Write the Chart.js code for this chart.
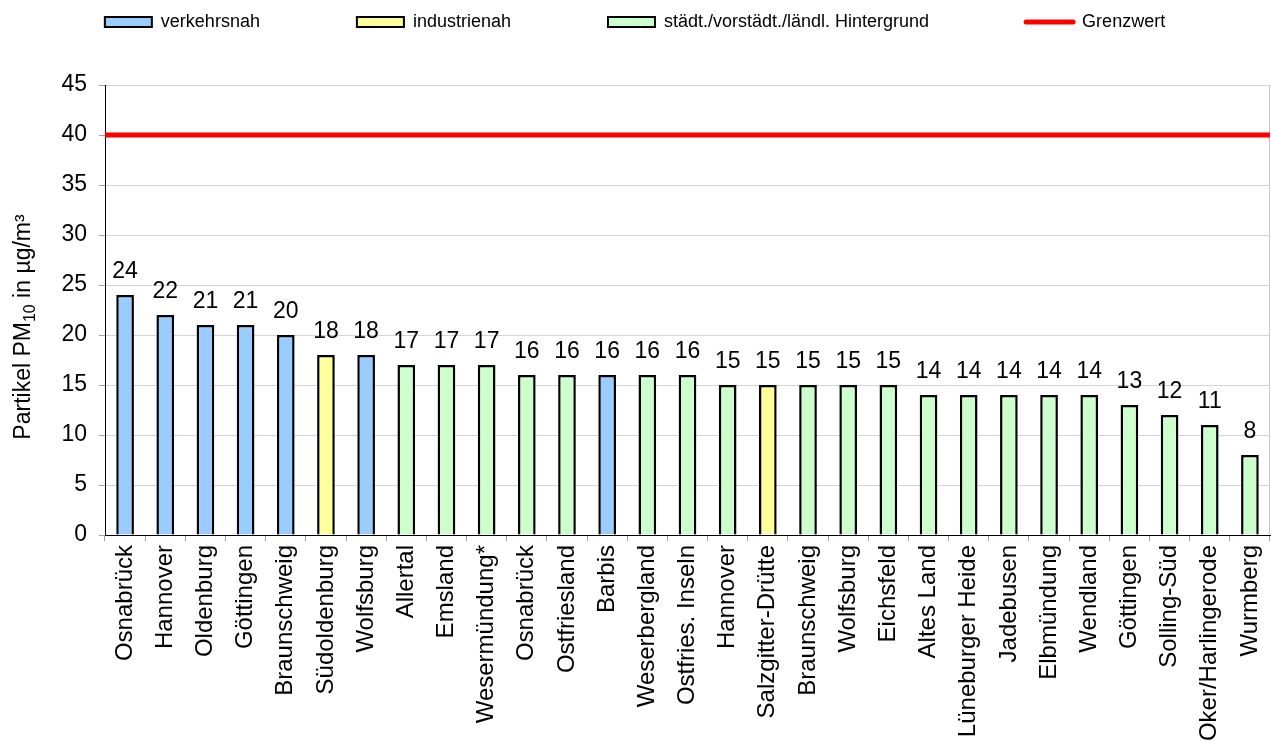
<!DOCTYPE html>
<html>
<head>
<meta charset="utf-8">
<script src="https://cdn.jsdelivr.net/npm/chart.js@4"></script>
<style>
html, body { margin: 0; padding: 0; background: #fff; overflow: hidden; }
</style>
</head>
<body>
<canvas id="myChart" width="1271" height="742"></canvas>
<script>
// stations, sorted like in the original chart
var stations = ["Osnabrück", "Hannover", "Oldenburg", "Göttingen", "Braunschweig", "Südoldenburg",
    "Wolfsburg", "Allertal", "Emsland", "Wesermündung*", "Osnabrück", "Ostfriesland", "Barbis",
    "Weserbergland", "Ostfries. Inseln", "Hannover", "Salzgitter-Drütte", "Braunschweig", "Wolfsburg",
    "Eichsfeld", "Altes Land", "Lüneburger Heide", "Jadebusen", "Elbmündung", "Wendland", "Göttingen",
    "Solling-Süd", "Oker/Harlingerode", "Wurmberg"];

// annual mean PM10 in µg/m³
var values = [24, 22, 21, 21, 20, 18, 18, 17, 17, 17, 16, 16, 16, 16, 16, 15, 15, 15, 15, 15,
    14, 14, 14, 14, 14, 13, 12, 11, 8];

// station type: v = verkehrsnah, i = industrienah, h = Hintergrund
var types = ["v", "v", "v", "v", "v", "i", "v", "h", "h", "h", "h", "h", "v", "h", "h", "h", "i", "h", "h",
    "h", "h", "h", "h", "h", "h", "h", "h", "h", "h"];

var yTicks = [0, 5, 10, 15, 20, 25, 30, 35, 40, 45];

// limit value line (left edge to right edge)
var grenzwert = [40, 40];

var FONT = '"Liberation Sans", Arial, sans-serif';

function byType(t) {
    return values.map(function (v, i) { return types[i] === t ? v : null; });
}

// value labels above the bars
var barLabels = {
    id: "barLabels",
    afterDatasetsDraw: function (chart) {
        var ctx = chart.ctx;
        ctx.save();
        ctx.font = "23px " + FONT;
        ctx.fillStyle = "#000";
        ctx.textAlign = "center";
        ctx.textBaseline = "alphabetic";
        chart.data.datasets.forEach(function (ds, i) {
            if (ds.type === "line") return;
            chart.getDatasetMeta(i).data.forEach(function (bar, j) {
                if (ds.data[j] === null) return;
                ctx.fillText(ds.data[j], bar.x, bar.y - 17);
            });
        });
        ctx.restore();
    }
};

// y axis title with subscript "10"
var yTitle = {
    id: "yTitle",
    afterDraw: function (chart) {
        var ctx = chart.ctx;
        var area = chart.chartArea;
        var parts = [
            { t: "Partikel PM", size: 23, dy: 0 },
            { t: "10", size: 16, dy: 5 },
            { t: " in µg/m³", size: 23, dy: 0 }
        ];
        ctx.save();
        var total = 0;
        parts.forEach(function (p) {
            ctx.font = p.size + "px " + FONT;
            p.w = ctx.measureText(p.t).width;
            total += p.w;
        });
        ctx.translate(30, (area.top + area.bottom) / 2 + 17);
        ctx.rotate(-Math.PI / 2);
        ctx.fillStyle = "#000";
        ctx.textBaseline = "alphabetic";
        ctx.textAlign = "left";
        var x = -total / 2;
        parts.forEach(function (p) {
            ctx.font = p.size + "px " + FONT;
            ctx.fillText(p.t, x, p.dy);
            x += p.w;
        });
        ctx.restore();
    }
};

// thin grey frame line on the right side of the plot
var rightFrame = {
    id: "rightFrame",
    beforeDatasetsDraw: function (chart) {
        var ctx = chart.ctx;
        var a = chart.chartArea;
        ctx.save();
        ctx.strokeStyle = "#c8c8c8";
        ctx.lineWidth = 1;
        ctx.beginPath();
        ctx.moveTo(a.right - 0.5, a.top);
        ctx.lineTo(a.right - 0.5, a.bottom);
        ctx.stroke();
        ctx.restore();
    }
};

var ctx = document.getElementById("myChart").getContext("2d");

var data = {
    labels: stations,
    datasets: [
        {
            label: "verkehrsnah",
            data: byType("v"),
            backgroundColor: "#99CCFF",
            borderColor: "#000",
            borderWidth: 2.5,
            grouped: false,
            barPercentage: 0.44,
            categoryPercentage: 1
        },
        {
            label: "industrienah",
            data: byType("i"),
            backgroundColor: "#FFFF99",
            borderColor: "#000",
            borderWidth: 2.5,
            grouped: false,
            barPercentage: 0.44,
            categoryPercentage: 1
        },
        {
            label: "städt./vorstädt./ländl. Hintergrund",
            data: byType("h"),
            backgroundColor: "#CCFFCC",
            borderColor: "#000",
            borderWidth: 2.5,
            grouped: false,
            barPercentage: 0.44,
            categoryPercentage: 1
        },
        {
            type: "line",
            label: "Grenzwert",
            data: grenzwert,
            xAxisID: "x2",
            borderColor: "#FF0000",
            backgroundColor: "#FF0000",
            borderWidth: 5,
            pointRadius: 0
        }
    ]
};

var myBarChart = new Chart(ctx, {
    type: "bar",
    data: data,
    plugins: [barLabels, yTitle, rightFrame],
    options: {
        responsive: false,
        animation: false,
        events: [],
        layout: { padding: { top: -84, right: 1, left: 0, bottom: 0 } },
        plugins: {
            tooltip: { enabled: false },
            legend: {
                position: "top",
                weight: 3000,
                labels: {
                    usePointStyle: true,
                    pointStyleWidth: 47,
                    boxHeight: 10,
                    padding: 97,
                    color: "#000",
                    font: { family: FONT, size: 18 },
                    generateLabels: function (chart) {
                        return chart.data.datasets.map(function (ds, i) {
                            var isLine = ds.type === "line";
                            return {
                                text: ds.label,
                                fillStyle: ds.backgroundColor,
                                strokeStyle: isLine ? ds.borderColor : "#000",
                                lineWidth: isLine ? 5 : 2,
                                lineCap: "round",
                                pointStyle: isLine ? "line" : "rect",
                                fontColor: "#000",
                                hidden: false,
                                datasetIndex: i
                            };
                        });
                    }
                }
            },
            // empty title used as spacer between legend and plot
            title: {
                display: true,
                text: "",
                padding: 0,
                font: { size: 44, lineHeight: 1 }
            }
        },
        scales: {
            x: {
                offset: true,
                grid: {
                    offset: true,
                    drawOnChartArea: false,
                    drawTicks: true,
                    tickLength: 6,
                    color: "#a0a0a0"
                },
                border: { color: "#000", width: 1 },
                ticks: {
                    autoSkip: false,
                    minRotation: 90,
                    maxRotation: 90,
                    padding: 4,
                    color: "#000",
                    font: { family: FONT, size: 24 }
                },
                afterFit: function (scale) {
                    scale.height = 207;
                    scale.paddingLeft = 0;
                    scale.paddingRight = 0;
                }
            },
            x2: {
                type: "category",
                labels: ["", ""],
                offset: false,
                display: false
            },
            y: {
                min: 0,
                max: 45,
                afterBuildTicks: function (scale) {
                    scale.ticks = yTicks.map(function (v) { return { value: v }; });
                },
                grid: {
                    color: function (c) { return c.tick && c.tick.value === 0 ? "rgba(0,0,0,0)" : "#d4d4d4"; },
                    tickColor: "#a0a0a0",
                    tickLength: 6
                },
                border: { color: "#000", width: 1 },
                ticks: {
                    padding: 12,
                    color: "#000",
                    font: { family: FONT, size: 23 }
                },
                afterFit: function (scale) { scale.width = 105; }
            }
        }
    }
});
</script>
</body>
</html>
